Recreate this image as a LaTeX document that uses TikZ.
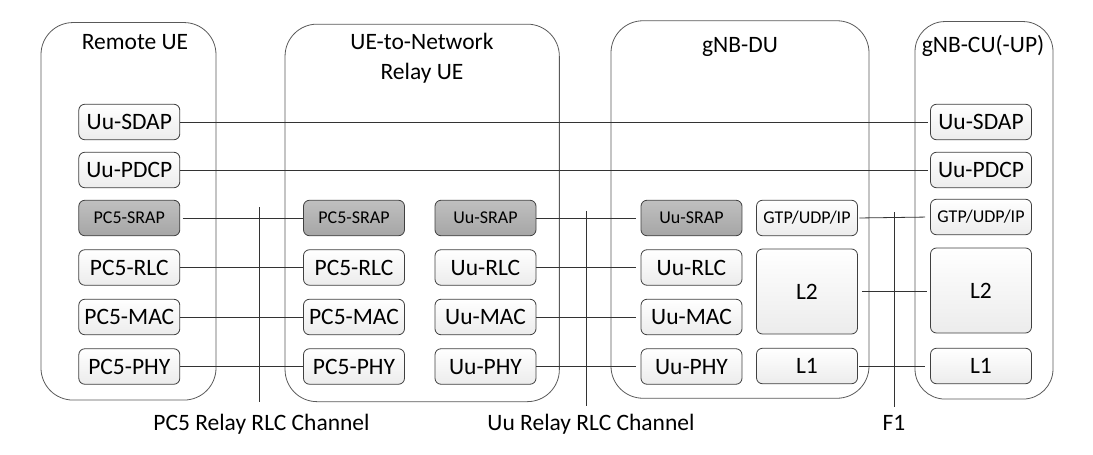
\documentclass[tikz,border=0pt]{standalone}
\usepackage{fontspec}
\setmainfont{Carlito}
\usepackage{tikz}

\begin{document}
\begin{tikzpicture}[x=1pt,y=-1pt,
		stackbox/.style={draw=black!75, line width=0.8pt, rounded corners=6pt, top color=white, bottom color=gray!15, minimum width=101pt, minimum height=35.5pt, inner sep=0pt, text height=15.1pt, text depth=0pt, font=\fontsize{23.5}{28}\selectfont},
		srapbox/.style={stackbox, top color=gray!50, bottom color=gray!70, text height=11.6pt, font=\fontsize{18}{22}\selectfont},
		gtpbox/.style={stackbox, text height=11.6pt, font=\fontsize{18}{22}\selectfont},
		entity/.style={draw=black!65, line width=0.8pt, rounded corners=32pt, minimum height=377.5pt, inner sep=0pt},
		heading/.style={inner sep=0pt, text height=15.1pt, text depth=0pt, font=\fontsize{23.5}{30}\selectfont},
		link/.style={draw=black!80, line width=0.8pt},
		gap/.style={link, shorten >=5pt}]
		\useasboundingbox (0,0) rectangle (1093,455);
		% entities
		\node[entity, minimum width=175pt] (remote) at (128.5,211.3) {};
		\node[entity, minimum width=274.3pt] (relay) at (422.2,212.9) {};
		\node[entity, minimum width=258pt] (du) at (740,209.5) {};
		\node[entity, minimum width=138pt, rounded corners=30pt] (cu) at (984,210.3) {};
		\node[heading] (remotettl) at (135,41.7) {Remote UE};
		\node[heading] (relayttl) at (422,41.7) {UE-to-Network};
		\node[heading] (relayttlb) at (422,71.7) {Relay UE};
		\node[heading] (duttl) at (740,45) {gNB-DU};
		\node[heading] (cuttl) at (983,45) {gNB-CU(-UP)};
		% remote UE
		\node[stackbox] (rsdap) at (129.3,122) {Uu-SDAP};
		\node[stackbox] (rpdcp) at (129.3,170) {Uu-PDCP};
		\node[srapbox] (rsrap) at (129.3,218) {PC5-SRAP};
		\node[stackbox] (rrlc) at (129.3,267.5) {PC5-RLC};
		\node[stackbox] (rmac) at (129.3,317) {PC5-MAC};
		\node[stackbox] (rphy) at (129.3,366.5) {PC5-PHY};
		% relay UE
		\node[srapbox] (psrap) at (354,218) {PC5-SRAP};
		\node[stackbox] (prlc) at (354,267.5) {PC5-RLC};
		\node[stackbox] (pmac) at (354,317) {PC5-MAC};
		\node[stackbox] (pphy) at (354,366.5) {PC5-PHY};
		\node[srapbox] (usrap) at (485.5,218) {Uu-SRAP};
		\node[stackbox] (urlc) at (485.5,267.5) {Uu-RLC};
		\node[stackbox] (umac) at (485.5,317) {Uu-MAC};
		\node[stackbox] (uphy) at (485.5,366.5) {Uu-PHY};
		% gNB-DU
		\node[srapbox] (dsrap) at (691.5,218) {Uu-SRAP};
		\node[stackbox] (drlc) at (691.5,267.5) {Uu-RLC};
		\node[stackbox] (dmac) at (691.5,317) {Uu-MAC};
		\node[stackbox] (dphy) at (691.5,366.5) {Uu-PHY};
		\node[gtpbox] (dgtp) at (807,218) {GTP/UDP/IP};
		\node[stackbox, minimum height=85pt] (dl2) at (807,291.5) {L2};
		\node[stackbox] (dl1) at (807,366) {L1};
		% gNB-CU
		\node[stackbox] (csdap) at (981,122) {Uu-SDAP};
		\node[stackbox] (cpdcp) at (981,170) {Uu-PDCP};
		\node[gtpbox] (cgtp) at (981,217) {GTP/UDP/IP};
		\node[stackbox, minimum height=85pt] (cl2) at (981,290.5) {L2};
		\node[stackbox] (cl1) at (981,366) {L1};
		% peer links
		\draw[link, shorten >=2pt] (rsdap.east) -- (csdap.west);
		\draw[link, shorten >=2pt] (rpdcp.east) -- (cpdcp.west);
		\draw[link, shorten <=2.5pt] (rsrap.east) -- (psrap.west);
		\draw[link] (rrlc.east) -- (prlc.west);
		\draw[link] (rmac.east) -- (pmac.west);
		\draw[link] (rphy.east) -- (pphy.west);
		\draw[gap] (usrap.east) -- (dsrap.west);
		\draw[gap] (urlc.east) -- (drlc.west);
		\draw[gap] (umac.east) -- (dmac.west);
		\draw[gap] (uphy.east) -- (dphy.west);
		\draw[gap, shorten <=1.5pt] (dgtp.east) -- (cgtp.west);
		\draw[link, shorten <=4pt, shorten >=3.5pt] (dl2.east) -- (dl2.east -| cl2.west);
		\draw[gap, shorten <=1.5pt] (dl1.east) -- (cl1.west);
		% interfaces
		\coordinate (pc5top) at (259.5,207);
		\coordinate (pc5bot) at (259.5,402);
		\coordinate (uutop) at (586,211);
		\coordinate (uubot) at (586,406);
		\coordinate (f1top) at (894.3,212);
		\coordinate (f1bot) at (894.3,407);
		\draw[link] (pc5top) -- (pc5bot);
		\draw[link] (uutop) -- (uubot);
		\draw[link] (f1top) -- (f1bot);
		\node[heading] (pc5lbl) at (261.5,423) {PC5 Relay RLC Channel};
		\node[heading] (uulbl) at (591,423) {Uu Relay RLC Channel};
		\node[heading] (f1lbl) at (894,423) {F1};
	\end{tikzpicture}
\end{document}
